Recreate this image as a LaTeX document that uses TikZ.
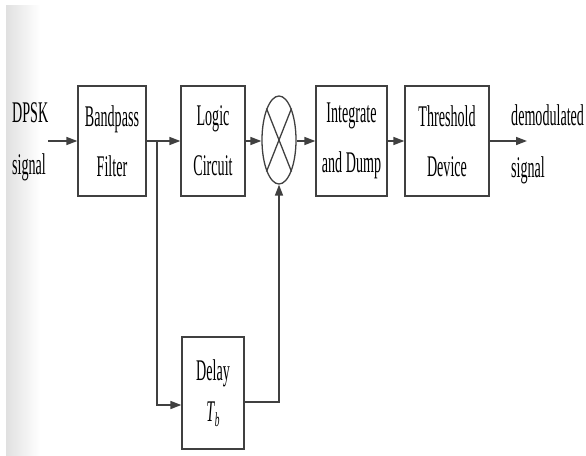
\documentclass[tikz,border=0pt]{standalone}
\usepackage{fontspec}
\setmainfont{Liberation Serif}
\usetikzlibrary{arrows.meta,shapes.geometric}

% squeezed text, as in the scanned figure
\newcommand{\nrw}[1]{\scalebox{0.47}[1]{#1}}

\begin{document}
\begin{tikzpicture}[x=1pt, y=-1pt,
    blk/.style={draw=colLn, line width=1.3pt, inner sep=0pt,
        minimum width=#1, minimum height=110pt, align=center,
        font=\fontsize{30}{50}\selectfont},
    lbl/.style={inner sep=0pt, anchor=west, align=left,
        font=\fontsize{30}{52}\selectfont},
    wire/.style={draw=colLn, line width=1.6pt},
    sig/.style={wire, -{Triangle[length=11pt,width=8pt]}}]

    \colorlet{colLn}{black!75}
    \useasboundingbox (0,0) rectangle (586,455);

    % scan shading on the left edge
    \shade[left color=black!12, right color=white] (6,5) rectangle (40,455);

    % Blocks on the main path
    \node[blk=68pt] (bpf) at (112,141) {\nrw{Bandpass}\\\nrw{Filter}};
    \node[blk=64pt] (lgc) at (213,141) {\nrw{Logic}\\\nrw{Circuit}};
    \node[draw=colLn, line width=1.3pt, ellipse, inner sep=0pt,
        minimum width=34pt, minimum height=88pt] (mul) at (279,140) {};
    \draw[colLn, line width=1.3pt] (mul.north west) -- (mul.south east)
        (mul.north east) -- (mul.south west);
    \node[blk=71pt] (int) at (351.5,141) {\nrw{Integrate}\\\nrw{and Dump}};
    \node[blk=84pt] (thr) at (447,141) {\nrw{Threshold}\\\nrw{Device}};

    % Delay branch
    \node[blk=62pt, minimum height=112pt] (dly) at (213,393)
        {\nrw{Delay}\\[-9pt]\nrw{\textit{T}\raisebox{-0.35ex}{\fontsize{20}{20}\selectfont\textit{b}}}};

    % Input and output labels
    \node[lbl] (din) at (12,142) {\nrw{DPSK}\\\nrw{signal}};
    \node[lbl] (dout) at (511,144) {\nrw{demodulated}\\\nrw{signal}};

    \coordinate (br) at (157,141);
    \coordinate (out) at (527,141);

    % Connectors
    \draw[sig] (din.east |- bpf.west) -- (bpf.west);
    \draw[wire] (bpf.east) -- (br);
    \draw[sig] (br) -- (lgc.west);
    \draw[sig] (lgc.east) -- (lgc.east -| mul.west);
    \draw[sig] (mul.east |- int.west) -- (int.west);
    \draw[sig] (int.east) -- (thr.west);
    \draw[sig] (thr.east) -- (out);
    \draw[sig] (br) |- ([yshift=-12pt]dly.west);
    \draw[sig] ([yshift=-9pt]dly.east) -| (mul.south);
\end{tikzpicture}
\end{document}
